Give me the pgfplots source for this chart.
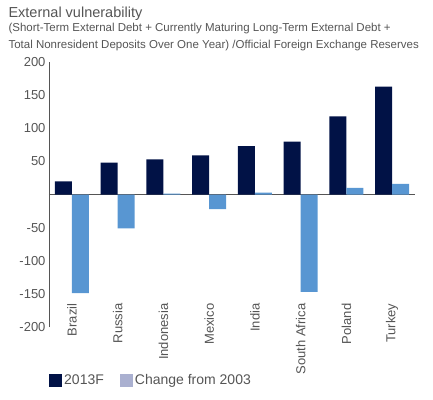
\documentclass[border=0pt]{standalone}
\usepackage{fontspec}
\setmainfont{Liberation Sans}
\usepackage{pgfplots}
\pgfplotsset{compat=1.18}
\definecolor{navy}{RGB}{1,18,70}
\definecolor{lblue}{RGB}{88,150,210}
\definecolor{lav}{RGB}{170,176,208}
\definecolor{txt}{RGB}{85,85,85}
\begin{document}
\begin{tikzpicture}
\begin{axis}[
  scale only axis, width=366pt, height=265pt,
  xmin=-0.5, xmax=7.5, ymin=-200, ymax=200,
  ybar=0pt, bar width=17pt,
  axis x line*=bottom, x axis line style={draw=none},
  axis y line*=left, y axis line style={draw=txt, line width=0.6pt, -},
  major tick length=0pt,
  xtick={0,...,7},
  xticklabels={Brazil,Russia,Indonesia,Mexico,India,South Africa,Poland,Turkey},
  xticklabel style={rotate=90, anchor=east, font=\fontsize{13}{13}\selectfont, text=txt},
  xticklabel shift=-27pt,
  ytick={-200,-150,-100,-50,50,100,150,200},
  yticklabel style={font=\fontsize{13}{13}\selectfont, text=txt},
  /pgf/number format/assume math mode=true,
  extra y ticks={0}, extra y tick labels={},
  extra y tick style={grid=major, major grid style={draw=txt, line width=0.6pt}},
  clip=false,
  legend style={at={(0,-0.2)}, anchor=west, draw=none, fill=none, inner sep=0pt,
    font=\fontsize{14}{14}\selectfont, text=txt,
    /tikz/every even column/.append style={column sep=14pt}},
  legend columns=2,
]
\addplot[fill=navy, draw=none, bar shift=-8.5pt,
  legend image code/.code={\fill[navy] (0pt,-6.5pt) rectangle (13pt,6.5pt);}]
  coordinates {(0,20) (1,48) (2,53) (3,59) (4,73) (5,80) (6,118) (7,163)};
\addlegendentry{2013F}
\addplot[fill=lblue, draw=none, bar shift=8.5pt,
  legend image code/.code={\fill[lav] (0pt,-6.5pt) rectangle (13pt,6.5pt);}]
  coordinates {(0,-149) (1,-51) (2,1.5) (3,-22) (4,3) (5,-147) (6,10) (7,16)};
\addlegendentry{Change from 2003}
\end{axis}
\node[anchor=base west, font=\fontsize{14.5}{14.5}\selectfont, text=txt] at ([shift={(-44pt,309.7pt)}]current axis.south west) {External vulnerability};
\node[anchor=base west, font=\fontsize{11.5}{11.5}\selectfont, text=txt] at ([shift={(-44pt,295.3pt)}]current axis.south west) {(Short-Term External Debt + Currently Maturing Long-Term External Debt +};
\node[anchor=base west, font=\fontsize{11.5}{11.5}\selectfont, text=txt] at ([shift={(-44pt,278.7pt)}]current axis.south west) {Total Nonresident Deposits Over One Year) /Official Foreign Exchange Reserves};
\pgfresetboundingbox
\path ([shift={(-49pt,-72pt)}]current axis.south west) rectangle ++(433pt,399pt);
\end{tikzpicture}
\end{document}
